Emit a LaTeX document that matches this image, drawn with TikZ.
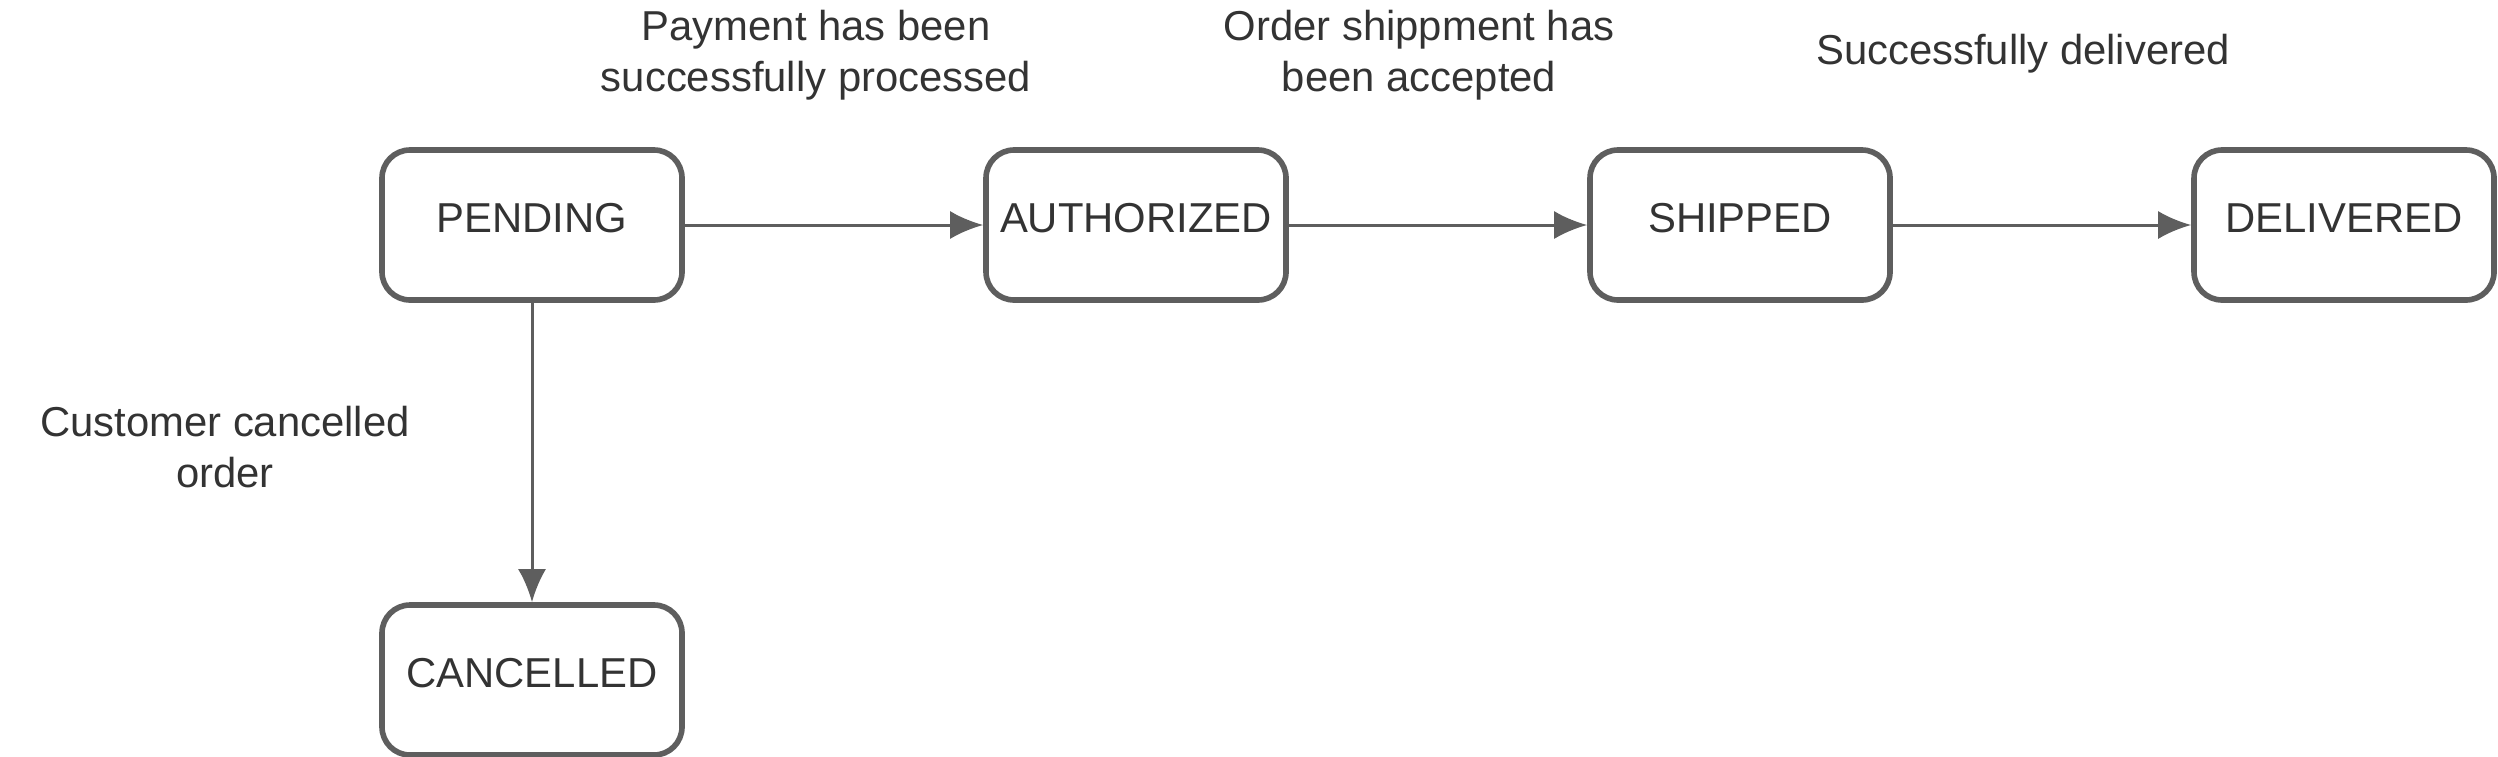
\documentclass[tikz,border=0pt]{standalone}
\usepackage{fontspec}
\setmainfont{Liberation Sans}
\usetikzlibrary{arrows.meta}
\definecolor{linegray}{HTML}{5E5E5E}
\definecolor{textgray}{HTML}{333333}
\tikzset{
    state/.style={draw=linegray, line width=1.6pt, rounded corners=0.28cm, fill=white,
        minimum width=3.0cm, minimum height=1.5cm, text depth=0.14cm, text=textgray,
        font=\fontsize{11.9}{14}\selectfont},
    trans/.style={draw=linegray, line width=0.85pt, -{Latex[length=3.3mm,width=2.8mm]}},
    lbl/.style={text=textgray, align=center, font=\fontsize{11.9}{14.5}\selectfont}
}
\begin{document}
\begin{tikzpicture}
    \useasboundingbox (0,0) rectangle (24.98,-7.56);

    % states
    \node[state] (pending)    at (5.32,-2.25)  {PENDING};
    \node[state] (authorized) at (11.36,-2.25) {AUTHORIZED};
    \node[state] (shipped)    at (17.40,-2.25) {SHIPPED};
    \node[state] (delivered)  at (23.44,-2.25) {DELIVERED};
    \node[state] (cancelled)  at (5.32,-6.80)  {CANCELLED};

    % transitions
    \draw[trans] (pending) -- (authorized);
    \draw[trans] (authorized) -- (shipped);
    \draw[trans] (shipped) -- (delivered);
    \draw[trans] (pending) -- (cancelled);

    % labels
    \node[lbl] (paid)     at (8.16,-0.55)  {Payment has been\\successfully processed};
    \node[lbl] (accepted) at (14.19,-0.55) {Order shippment has\\been accepted};
    \node[lbl] (success)  at (20.23,-0.54) {Successfully delivered};
    \node[lbl] (custcanc) at (2.25,-4.47)  {Customer cancelled\\order};
\end{tikzpicture}
\end{document}
